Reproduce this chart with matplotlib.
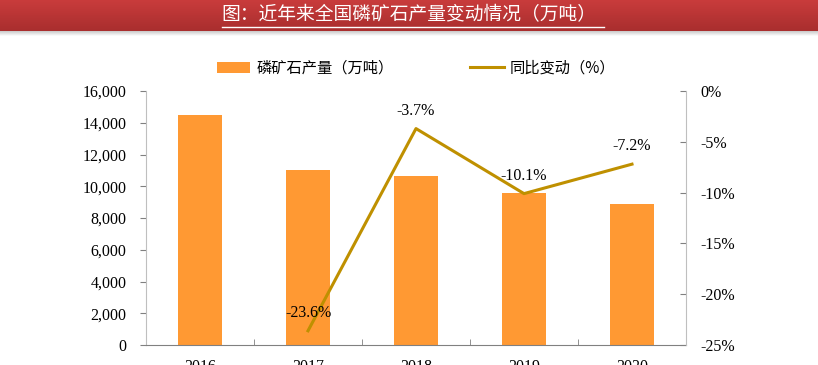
import matplotlib.pyplot as plt
import numpy as np
from matplotlib.lines import Line2D
from matplotlib.colors import LinearSegmentedColormap

years = ['2016', '2017', '2018', '2019', '2020']
output = [14500, 11050, 10650, 9600, 8900]
yoy_years = ['2017', '2018', '2019', '2020']
yoy = [-23.6, -3.7, -10.1, -7.2]

bar_color = '#FF9933'
line_color = '#BF9000'
spine_color = '#BFBFBF'
cjk = ['Noto Sans CJK SC', 'DejaVu Sans']
serif = ['Liberation Serif', 'DejaVu Serif']

fig = plt.figure(figsize=(8.18, 3.65), dpi=100)

# title banner
grad = np.linspace(0, 1, 64).reshape(-1, 1)
band = fig.add_axes([0, 1 - 31 / 365, 1, 31 / 365])
band.imshow(grad, aspect='auto', cmap=LinearSegmentedColormap.from_list(
    'r', ['#C93C3C', '#A92E2E']), extent=[0, 1, 0, 1])
band.axis('off')
shadow = fig.add_axes([0, 1 - 36 / 365, 1, 5 / 365])
shadow.imshow(grad, aspect='auto', cmap=LinearSegmentedColormap.from_list(
    's', ['#C8C8C8', '#FFFFFF']), extent=[0, 1, 0, 1])
shadow.axis('off')
fig.text(0.5, 1 - 15 / 365, '图：近年来全国磷矿石产量变动情况（万吨）', color='white',
         fontsize=13.5, family=cjk, ha='center', va='center')
fig.add_artist(Line2D([222 / 818, 604 / 818], [1 - 27 / 365, 1 - 27 / 365], color='white', lw=1))

ax = fig.add_axes([146 / 818, 20 / 365, 540 / 818, 254 / 365])
x = np.arange(len(years))
ax.bar(x, output, width=0.4, color=bar_color, label='磷矿石产量（万吨）', zorder=2)
ax.set_xlim(-0.5, len(years) - 0.5)
ax.set_ylim(0, 16000)
ax.set_yticks(np.arange(0, 16001, 2000))
ax.set_yticklabels([f'{v:,}' for v in range(0, 16001, 2000)], family=serif, fontsize=11.5)
ax.set_xticks(x)
ax.set_xticklabels(years, family=serif, fontsize=11.5)
ax.set_xticks(np.arange(0.5, len(years) - 0.5), minor=True)
ax.tick_params(axis='x', which='major', length=0, pad=10)
ax.tick_params(axis='x', which='minor', direction='in', length=4, color='#808080')
ax.tick_params(axis='y', direction='out', length=4, color='#808080', pad=10)
for s in ['top', 'right']:
    ax.spines[s].set_visible(False)
ax.spines['left'].set_color(spine_color)
ax.spines['bottom'].set_color('#808080')

ax2 = ax.twinx()
xi = [years.index(y) for y in yoy_years]
ax2.plot(xi, yoy, color=line_color, lw=2.2, label='同比变动（%）', zorder=3)
ax2.set_ylim(-25, 0)
ax2.set_yticks(np.arange(-25, 1, 5))
ax2.set_yticklabels([f'{v}%' for v in range(-25, 1, 5)], family=serif, fontsize=11.5)
ax2.tick_params(axis='y', direction='in', length=4, color='#808080', pad=10)
for s in ['top', 'left', 'bottom']:
    ax2.spines[s].set_visible(False)
ax2.spines['right'].set_color(spine_color)
for xv, yv in zip(xi, yoy):
    ax2.annotate(f'{yv}%', (xv, yv), xytext=(0, 7), textcoords='offset points',
                 ha='center', va='bottom', family=serif, fontsize=11.5)

h1, l1 = ax.get_legend_handles_labels()
h2, l2 = ax2.get_legend_handles_labels()
leg = ax.legend(h1 + h2, l1 + l2, loc='center', bbox_to_anchor=(0.5, 1 + 23 / 254), ncol=2,
                frameon=False, prop={'family': cjk, 'size': 11}, columnspacing=5,
                handlelength=2.2, handletextpad=0.4)

fig.savefig('out.png', dpi=100)
